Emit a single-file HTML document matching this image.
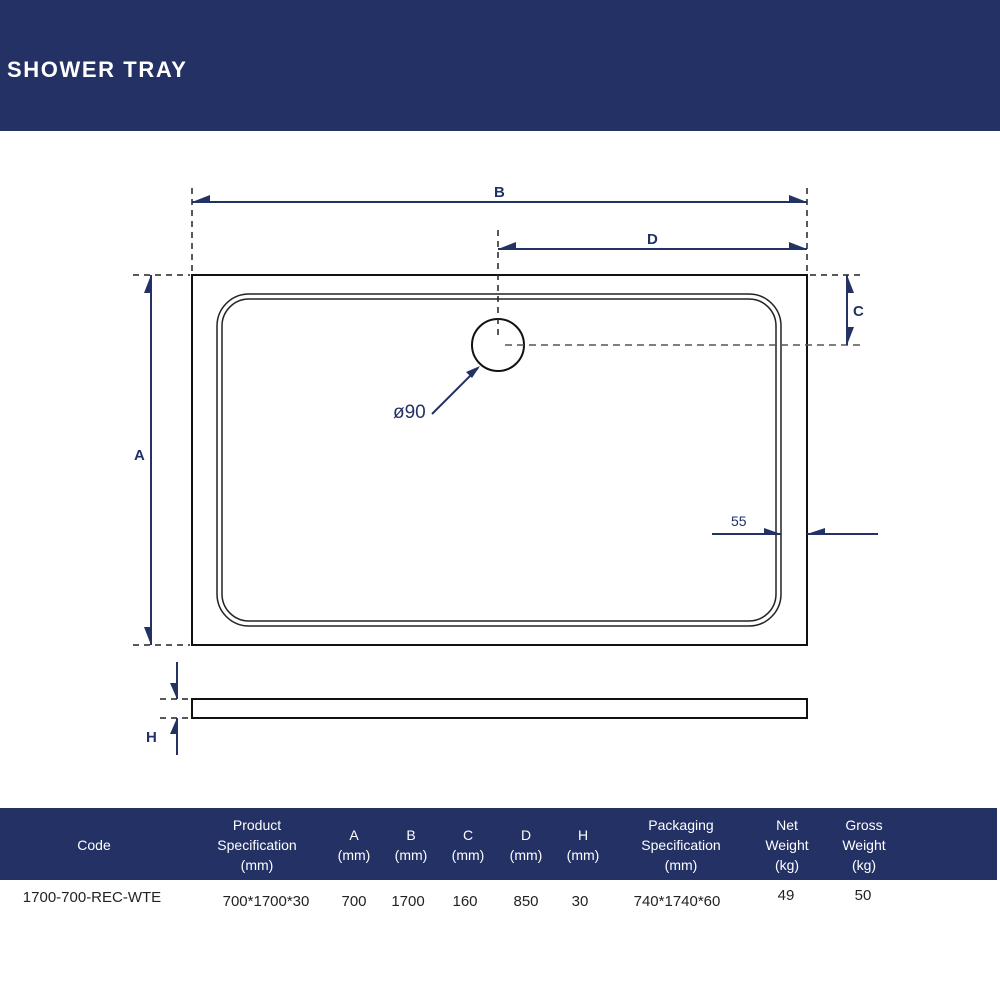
<!DOCTYPE html>
<html><head><meta charset="utf-8"><style>
html,body{margin:0;padding:0;background:#fff;}
svg{display:block}
text{font-family:"Liberation Sans",sans-serif;}
</style></head><body>
<svg width="1000" height="1000" viewBox="0 0 1000 1000" xmlns="http://www.w3.org/2000/svg">
<rect x="0" y="0" width="1000" height="131" fill="#233165"/>
<text x="7" y="77" fill="#fff" font-size="22" font-weight="bold" letter-spacing="1.6">SHOWER TRAY</text>

<!-- main tray -->
<rect x="192" y="275" width="615" height="370" fill="none" stroke="#111" stroke-width="2"/>
<rect x="217" y="294" width="564" height="332" rx="32" fill="none" stroke="#222" stroke-width="1.5"/>
<rect x="222" y="299" width="554" height="322" rx="27" fill="none" stroke="#222" stroke-width="1.5"/>
<circle cx="498" cy="345" r="26" fill="#fff" stroke="#111" stroke-width="2"/>

<g stroke="#222" stroke-width="1.5" stroke-dasharray="6,5" fill="none">
<line x1="192" y1="188" x2="192" y2="275"/>
<line x1="807" y1="188" x2="807" y2="275"/>
<line x1="498" y1="230" x2="498" y2="338"/>
<line x1="133" y1="275" x2="190" y2="275"/>
<line x1="133" y1="645" x2="190" y2="645"/>
<line x1="810" y1="275" x2="862" y2="275"/>
<line x1="160" y1="699" x2="190" y2="699"/>
<line x1="160" y1="718" x2="190" y2="718"/>
</g>
<line x1="505" y1="345" x2="862" y2="345" stroke="#555" stroke-width="1.5" stroke-dasharray="7,5"/>

<g stroke="#233165" stroke-width="2" fill="none">
<line x1="192" y1="202" x2="807" y2="202"/>
<line x1="498" y1="249" x2="807" y2="249"/>
<line x1="151" y1="275" x2="151" y2="645"/>
<line x1="847" y1="275" x2="847" y2="345"/>
<line x1="177" y1="662" x2="177" y2="699"/>
<line x1="177" y1="718" x2="177" y2="755"/>
<line x1="712" y1="534" x2="781" y2="534"/>
<line x1="807" y1="534" x2="878" y2="534"/>
<line x1="432" y1="414" x2="478" y2="368"/>
</g>
<g fill="#233165">
<polygon points="192,202 210,195 210,202"/>
<polygon points="807,202 789,195 789,202"/>
<polygon points="498,249 516,242 516,249"/>
<polygon points="807,249 789,242 789,249"/>
<polygon points="151,275 144,293 151,293"/>
<polygon points="151,645 144,627 151,627"/>
<polygon points="847,275 854,293 847,293"/>
<polygon points="847,345 854,327 847,327"/>
<polygon points="177,699 170,683 177,683"/>
<polygon points="177,718 170,734 177,734"/>
<polygon points="781,534 764,528 764,534"/>
<polygon points="807,534 825,528 825,534"/>
<polygon points="480,366 466,372 472,378"/>
</g>
<g fill="#233165" font-weight="bold" font-size="15">
<text x="494" y="197">B</text>
<text x="647" y="244">D</text>
<text x="134" y="460">A</text>
<text x="853" y="316">C</text>
<text x="146" y="742">H</text>
</g>
<text x="393" y="418" fill="#233165" font-size="19">ø90</text>
<text x="731" y="526" fill="#233165" font-size="14">55</text>

<!-- side view -->
<rect x="192" y="699" width="615" height="19" fill="none" stroke="#111" stroke-width="2"/>

<!-- table -->
<rect x="0" y="808" width="997" height="72" fill="#233165"/>
<g fill="#fff" font-size="14" text-anchor="middle">
<text x="94" y="850">Code</text>
<text x="257" y="830">Product</text><text x="257" y="850">Specification</text><text x="257" y="870">(mm)</text>
<text x="354" y="840">A</text><text x="354" y="860">(mm)</text>
<text x="411" y="840">B</text><text x="411" y="860">(mm)</text>
<text x="468" y="840">C</text><text x="468" y="860">(mm)</text>
<text x="526" y="840">D</text><text x="526" y="860">(mm)</text>
<text x="583" y="840">H</text><text x="583" y="860">(mm)</text>
<text x="681" y="830">Packaging</text><text x="681" y="850">Specification</text><text x="681" y="870">(mm)</text>
<text x="787" y="830">Net</text><text x="787" y="850">Weight</text><text x="787" y="870">(kg)</text>
<text x="864" y="830">Gross</text><text x="864" y="850">Weight</text><text x="864" y="870">(kg)</text>
</g>
<g fill="#222" font-size="15" text-anchor="middle">
<text x="92" y="902">1700-700-REC-WTE</text>
<text x="266" y="906">700*1700*30</text>
<text x="354" y="906">700</text>
<text x="408" y="906">1700</text>
<text x="465" y="906">160</text>
<text x="526" y="906">850</text>
<text x="580" y="906">30</text>
<text x="677" y="906">740*1740*60</text>
<text x="786" y="900">49</text>
<text x="863" y="900">50</text>
</g>
</svg>
</body></html>
